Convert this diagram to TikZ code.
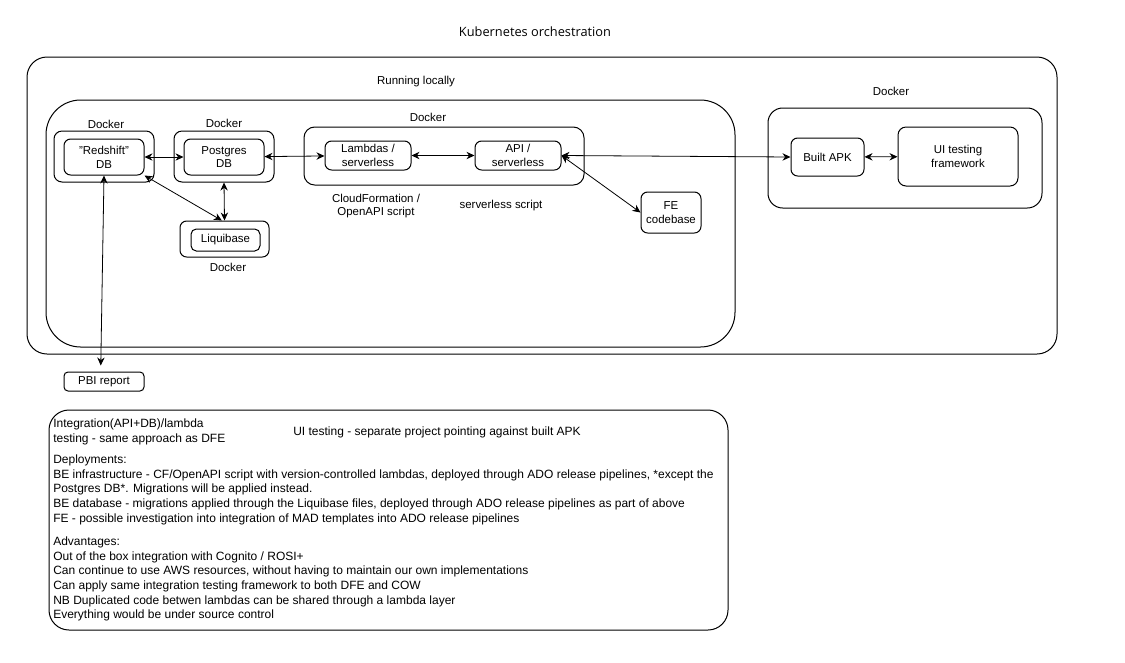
\documentclass[tikz,border=0pt]{standalone}
\usepackage{fontspec}
\setmainfont{Liberation Sans}
\newfontfamily\titlefont{Open Sans}
\usetikzlibrary{arrows.meta,positioning}
\begin{document}
\begin{tikzpicture}[x=0.75pt,y=-0.75pt,
    every node/.style={font=\fontsize{8.6}{10.4}\selectfont,inner sep=0pt},
    box/.style={draw,rounded corners=#1,line width=0.75pt},
    box/.default=5pt,
    link/.style={line width=0.6pt,{Stealth[length=6pt,width=5.5pt]}-{Stealth[length=6pt,width=5.5pt]}}]
  \useasboundingbox (0,0) rectangle (1125,662);
  \path (535,32) node[font=\titlefont\fontsize{9.6}{11}\selectfont] (T) {Kubernetes orchestration};

  % containers
  \path (542,205.5) node[box=15pt,minimum width=772.5pt,minimum height=222.75pt] (kube) {};
  \path (416,82) node (kubeL) {Running locally};
  \path (390.5,223.5) node[box=26pt,minimum width=516.75pt,minimum height=185.25pt] (local) {};

  % local dockers
  \path (104,156.5) node[box=6pt,minimum width=75pt,minimum height=38.25pt] (D1) {};
  \path (106,124) node (D1L) {Docker};
  \path (104,157) node[box,minimum width=60pt,minimum height=27pt,align=center] (R) {\symbol{34}Redshift\symbol{34}\\DB};
  \path (224,156.5) node[box=6pt,minimum width=75pt,minimum height=38.25pt] (D2) {};
  \path (224,123) node (D2L) {Docker};
  \path (224,157) node[box,minimum width=60pt,minimum height=27pt,align=center] (P) {Postgres\\DB};
  \path (444,156) node[box=8pt,minimum width=210pt,minimum height=43.5pt] (D3) {};
  \path (428,117) node (D3L) {Docker};
  \path (368,155.5) node[box,minimum width=64.5pt,minimum height=21.75pt,align=center] (L) {Lambdas /\\serverless};
  \path (518,155.5) node[box,minimum width=64.5pt,minimum height=21.75pt,align=center] (A) {API /\\serverless};
  \path (376,206) node[align=center] (LL) {CloudFormation /\\OpenAPI script};
  \path (501,206) node (AL) {serverless script};
  \path (671,212.5) node[box,minimum width=45pt,minimum height=30.75pt,align=center] (F) {FE\\codebase};
  \path (224.5,239) node[box=5pt,minimum width=66.75pt,minimum height=27pt] (D4) {};
  \path (225.5,240) node[box=4pt,minimum width=51.75pt,minimum height=16.5pt] (Q) {Liquibase};
  \path (228,267) node (D4L) {Docker};

  % right docker
  \path (905,158) node[box=11pt,minimum width=205.5pt,minimum height=75pt] (D5) {};
  \path (891,91) node (D5L) {Docker};
  \path (827.5,157) node[box,minimum width=54.75pt,minimum height=28.5pt] (K) {Built APK};
  \path (958,156.5) node[box=6pt,minimum width=90pt,minimum height=44.25pt,align=center] (U) {UI testing\\framework};

  \path (104,381.5) node[box=3pt,minimum width=60pt,minimum height=14.25pt] (B) {PBI report};

  % notes
  \path (388.5,520) node[box=15pt,minimum width=509.25pt,minimum height=165pt] (N) {};
  \path (53,418.5) node[anchor=north west,align=left,font=\fontsize{9}{11}\selectfont] (NT) {Integration(API+DB)/lambda\\testing - same approach as DFE\\[5pt]
    Deployments:\\
    BE infrastructure - CF/OpenAPI script with version-controlled lambdas, deployed through ADO release pipelines, *except the\\
    Postgres DB*. Migrations will be applied instead.\\
    BE database - migrations applied through the Liquibase files, deployed through ADO release pipelines as part of above\\
    FE - possible investigation into integration of MAD templates into ADO release pipelines\\[6.5pt]
    Advantages:\\
    Out of the box integration with Cognito / ROSI+\\
    Can continue to use AWS resources, without having to maintain our own implementations\\
    Can apply same integration testing framework to both DFE and COW\\
    NB Duplicated code betwen lambdas can be shared through a lambda layer\\
    Everything would be under source control};
  \path (437,432) node[font=\fontsize{9}{11}\selectfont] (NU) {UI testing - separate project pointing against built APK};

  % links
  \draw[link] (R) -- (P);
  \draw[link] (P) -- (L);
  \draw[link] (L) -- (A);
  \draw[link] (A.east) -- (K.west);
  \draw[link] (A.east) -- (F.west);
  \draw[link] (K) -- (U);
  \draw[link] (R.south east) -- ([xshift=-2pt]D4.north);
  \draw[link] (D2.south) -- (D4.north);
  \draw[link,shorten >=4.5pt] (R.south) -- ([xshift=-2.5pt]B.north);
\end{tikzpicture}
\end{document}
